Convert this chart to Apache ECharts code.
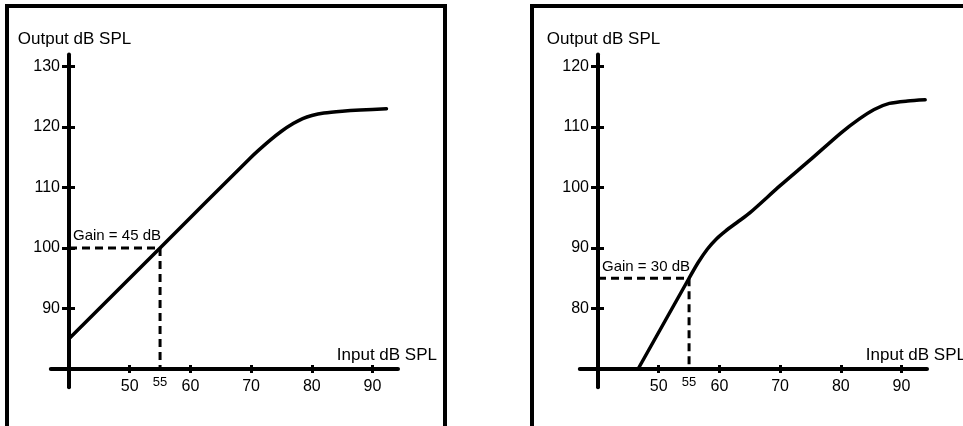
<!DOCTYPE html>
<html>
<head>
<meta charset="utf-8">
<script src="https://cdn.jsdelivr.net/npm/echarts@6/dist/echarts.min.js"></script>
<style>
html,body{margin:0;padding:0;background:#fff;}
#c{width:963px;height:426px;}
</style>
</head>
<body>
<div id="c"></div>
<script>
// ---- data ----
const xTicks = [50, 60, 70, 80, 90];
const leftYTicks = [90, 100, 110, 120, 130];
const rightYTicks = [80, 90, 100, 110, 120];

const leftInput  = [40, 55, 70, 73, 75, 77, 78.5, 80, 82, 85, 88, 92.3];
const leftOutput = [85, 100, 115, 117.7, 119.3, 120.6, 121.4, 121.9, 122.3, 122.6, 122.8, 123];

const rightInput  = [46.6, 55, 56.5, 58, 59.5, 61, 63, 65, 70, 75, 80, 83, 85.5, 88, 91, 93.9];
const rightOutput = [70, 85, 87.6, 89.8, 91.5, 92.8, 94.3, 95.8, 100.3, 104.6, 109, 111.3, 112.9, 113.9, 114.3, 114.5];

const gainInput = 55;
const gainOutputs = [100, 85];
const gainLabels = ['Gain = 45 dB', 'Gain = 30 dB'];
const originX = 40;
const originY = [80, 70];
const xName = 'Input dB SPL';
const yName = 'Output dB SPL';

// ---- build ----
const FONT = '"Liberation Sans", Arial, Helvetica, sans-serif';
const pairs = (xs, ys) => xs.map((x, i) => [x, ys[i]]);

const xRange = [37, 94.2];
const yRanges = [[77, 132], [67, 122]];
const grids = [
  {left: 50.8, top: 54.4, width: 347.2, height: 332.75, outerBoundsMode: 'none', containLabel: false},
  {left: 579.8, top: 54.4, width: 347.2, height: 332.75, outerBoundsMode: 'none', containLabel: false}
];
const xOff = -18.15, yOff = -18.2;
const xNameGaps = [39, 39];

const xAxes = [], yAxes = [];
[0, 1].forEach(g => {
  xAxes.push({
    type: 'value', gridIndex: g, min: xRange[0], max: xRange[1], position: 'bottom', offset: xOff,
    axisLine: {show: true, lineStyle: {color: '#000', width: 4}},
    axisTick: {show: true, customValues: xTicks, length: 4, lineStyle: {color: '#000', width: 3}},
    axisLabel: {show: true, customValues: xTicks, color: '#000', fontSize: 16, fontFamily: FONT, margin: 10},
    splitLine: {show: false},
    name: xName, nameLocation: 'end', nameGap: xNameGaps[g],
    nameTextStyle: {color: '#000', fontSize: 17, fontFamily: FONT, align: 'right', verticalAlign: 'bottom', padding: [0, 0, 5, 0]}
  });
  xAxes.push({
    type: 'value', gridIndex: g, min: xRange[0], max: xRange[1], position: 'bottom', offset: xOff,
    axisLine: {show: false},
    axisTick: {show: true, inside: true, customValues: xTicks, length: 4, lineStyle: {color: '#000', width: 3}},
    axisLabel: {show: true, customValues: [gainInput], color: '#000', fontSize: 13, fontFamily: FONT, margin: 7},
    splitLine: {show: false}
  });
  const yt = g === 0 ? leftYTicks : rightYTicks;
  yAxes.push({
    type: 'value', gridIndex: g, min: yRanges[g][0], max: yRanges[g][1], position: 'left', offset: yOff,
    axisLine: {show: true, lineStyle: {color: '#000', width: 4}},
    axisTick: {show: true, customValues: yt, length: 7, lineStyle: {color: '#000', width: 3}},
    axisLabel: {show: true, customValues: yt, color: '#000', fontSize: 16, fontFamily: FONT, margin: 9},
    splitLine: {show: false},
    name: yName, nameLocation: 'end', nameGap: 6.5,
    nameTextStyle: {color: '#000', fontSize: 17, fontFamily: FONT, align: 'center', verticalAlign: 'bottom', padding: [0, 0, 0, 11]}
  });
  yAxes.push({
    type: 'value', gridIndex: g, min: yRanges[g][0], max: yRanges[g][1], position: 'left', offset: yOff,
    axisLine: {show: false},
    axisTick: {show: true, inside: true, customValues: yt, length: 6, lineStyle: {color: '#000', width: 3}},
    axisLabel: {show: false},
    splitLine: {show: false}
  });
});

const curves = [pairs(leftInput, leftOutput), pairs(rightInput, rightOutput)];
const series = [];
[0, 1].forEach(g => {
  series.push({
    type: 'line', xAxisIndex: g * 2, yAxisIndex: g * 2, data: curves[g],
    smooth: 0.25, showSymbol: false, symbol: 'none', silent: true,
    lineStyle: {color: '#000', width: 3.5, cap: 'round', join: 'round'}, z: 5
  });
  series.push({
    type: 'line', xAxisIndex: g * 2, yAxisIndex: g * 2,
    data: [[originX, gainOutputs[g]], [gainInput, gainOutputs[g]], [gainInput, originY[g]]],
    showSymbol: false, symbol: 'none', silent: true,
    lineStyle: {color: '#000', width: 3, type: [8, 5]}, z: 4
  });
  series.push({
    type: 'scatter', xAxisIndex: g * 2, yAxisIndex: g * 2, silent: true,
    symbolSize: 0, itemStyle: {opacity: 1},
    data: [[originX, gainOutputs[g]]],
    label: {
      show: true, formatter: gainLabels[g], position: [4, g === 0 ? -5 : -3.5],
      align: 'left', verticalAlign: 'bottom', color: '#000', opacity: 1, fontSize: 15, fontFamily: FONT
    },
    z: 6
  });
});

const chart = echarts.init(document.getElementById('c'), null, {renderer: 'canvas'});
chart.setOption({
  backgroundColor: '#fff',
  animation: false,
  grid: grids,
  xAxis: xAxes,
  yAxis: yAxes,
  series: series,
  graphic: [
    {type: 'rect', shape: {x: 7, y: 6, width: 438, height: 500}, style: {fill: 'none', stroke: '#000', lineWidth: 4}, silent: true},
    {type: 'rect', shape: {x: 532, y: 6, width: 600, height: 500}, style: {fill: 'none', stroke: '#000', lineWidth: 4}, silent: true}
  ]
});
</script>
</body>
</html>
